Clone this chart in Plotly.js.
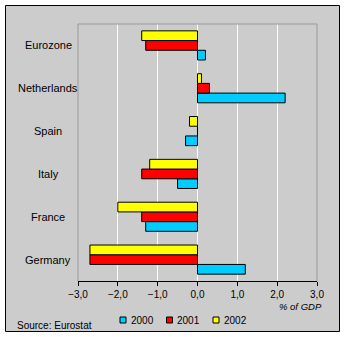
<!DOCTYPE html>
<html><head><meta charset="utf-8">
<script src="https://cdn.plot.ly/plotly-3.0.1.min.js"></script>
<style>html,body{margin:0;padding:0;background:#fff}#chart{width:346px;height:337px}</style>
</head><body><div id="chart"></div>
<script>
var categories = ["Germany", "France", "Italy", "Spain", "Netherlands", "Eurozone"];
var years = ["2000", "2001", "2002"];
var values2000 = [1.2, -1.3, -0.5, -0.3, 2.2, 0.2];
var values2001 = [-2.7, -1.4, -1.4, 0.0, 0.3, -1.3];
var values2002 = [-2.7, -2.0, -1.2, -0.2, 0.1, -1.4];
var colors = ["#00ccff", "#ff0000", "#ffff00"];
var tickVals = [-3, -2, -1, 0, 1, 2, 3];

var series = [values2000, values2001, values2002];
var traces = series.map(function (v, i) {
  return {
    type: "bar", orientation: "h", name: years[i],
    y: categories, x: v,
    marker: {color: colors[i], line: {color: "#000", width: 1}},
    showlegend: false, hoverinfo: "x"
  };
});

var font = {family: "Arial, 'Liberation Sans', sans-serif", color: "#000"};
function f(size, extra) { var o = Object.assign({}, font, {size: size}); return Object.assign(o, extra || {}); }

var W = 346, H = 337, L = 78, R = 29, T = 24, B = 56;
var pw = W - L - R, ph = H - T - B;
function px(x) { return (x - L) / pw; }
function py(y) { return (H - B - y) / ph; }

var shapes = [
  {type: "rect", xref: "paper", yref: "paper", x0: px(5.5), x1: px(339.5), y0: py(331.5), y1: py(5.5),
   fillcolor: "#cccccc", line: {color: "#000", width: 1}, layer: "below"},
  {type: "path", xref: "paper", yref: "paper", path: "M0,0 V1 H1 V0",
   line: {color: "#999999", width: 1}, layer: "above"}
];
var annotations = categories.map(function (c) {
  return {text: c, xref: "paper", yref: "y", x: px(48), y: c, xanchor: "center", yanchor: "middle",
          showarrow: false, font: f(11)};
});
years.forEach(function (yr, i) {
  var x0 = 120 + i * 46.5;
  shapes.push({type: "rect", xref: "paper", yref: "paper", x0: px(x0), x1: px(x0 + 6), y0: py(323), y1: py(317),
    fillcolor: colors[i], line: {color: "#000", width: 1}});
  annotations.push({text: yr, xref: "paper", yref: "paper", x: px(x0 + 8.5), y: py(320), xanchor: "left",
    yanchor: "middle", showarrow: false, font: f(10)});
});
annotations.push({text: "<i>% of GDP</i>", xref: "paper", yref: "paper", x: px(324), y: py(306),
  xanchor: "right", yanchor: "middle", showarrow: false, font: f(9.5)});
annotations.push({text: "Source: Eurostat", xref: "paper", yref: "paper", x: px(15), y: py(325),
  xanchor: "left", yanchor: "middle", showarrow: false, font: f(10)});

var layout = {
  width: W, height: H,
  margin: {l: L, r: R, t: T, b: B, pad: 0},
  paper_bgcolor: "#ffffff", plot_bgcolor: "#cccccc",
  barmode: "group", bargap: 0.32, bargroupgap: 0,
  separators: ",.",
  showlegend: false,
  xaxis: {range: [-3, 3], tickvals: tickVals, tickformat: ".1f", showgrid: true, gridcolor: "#ffffff",
    gridwidth: 1, zeroline: false, showline: true, linecolor: "#000", linewidth: 1, ticks: "outside",
    ticklen: 4, tickcolor: "#000", tickfont: f(10), fixedrange: true},
  yaxis: {type: "category", categoryorder: "array", categoryarray: categories, range: [-0.5, 5.5],
    showticklabels: false, showgrid: false, zeroline: false, showline: false, ticks: "", fixedrange: true},
  shapes: shapes, annotations: annotations, font: f(11)
};
Plotly.newPlot("chart", traces, layout, {displayModeBar: false, staticPlot: true});
</script></body></html>
